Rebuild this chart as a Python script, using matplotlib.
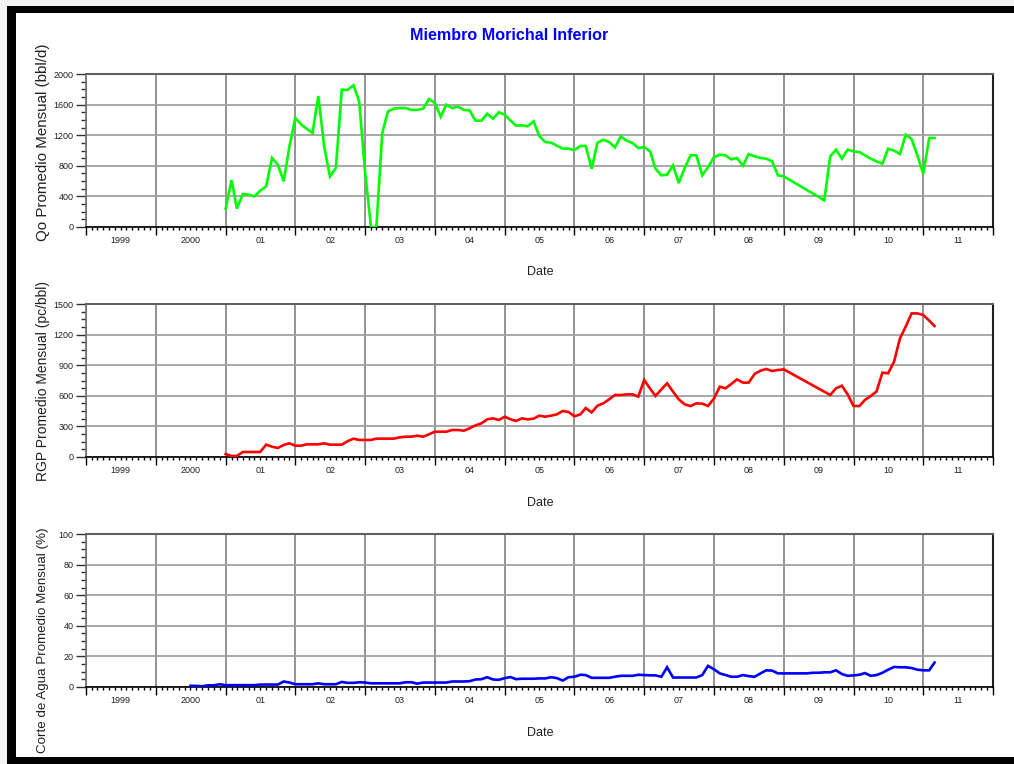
import numpy as np
import matplotlib
matplotlib.use("Agg")
import matplotlib.pyplot as plt
import matplotlib.dates as mdates
from matplotlib.patches import Rectangle
from matplotlib.ticker import MultipleLocator, NullFormatter

plt.rcParams['font.family'] = ['Liberation Sans', 'DejaVu Sans']

# ---- data: month offsets from Jan 2001 and monthly averages ----
qo_months = [0, 1, 2, 3, 4, 5, 6, 7, 8, 9, 10, 11, 12, 13, 14, 15, 16, 17, 18, 19,
             20, 21, 22, 23, 24, 25, 26, 27, 28, 29, 30, 31, 32, 33, 34, 35, 36, 37,
             38, 39, 40, 41, 42, 43, 44, 45, 46, 47, 48, 49, 50, 51, 52, 53, 54, 55,
             56, 57, 58, 59, 60, 61, 62, 63, 64, 65, 66, 67, 68, 69, 70, 71, 72, 73,
             74, 75, 76, 77, 78, 79, 80, 81, 82, 83, 84, 85, 86, 87, 88, 89, 90, 91,
             92, 93, 94, 95, 96, 103, 104, 105, 106, 107, 108, 109, 110, 111, 112,
             113, 114, 115, 116, 117, 118, 119, 120, 121, 122]
qo_values = [240, 614, 240, 431, 423, 400, 475, 531, 902, 815, 597, 1054, 1425, 1338,
             1285, 1229, 1712, 1050, 662, 771, 1795, 1791, 1852, 1643, 720, 0, 0, 1229,
             1512, 1547, 1555, 1555, 1530, 1530, 1547, 1673, 1620, 1442, 1599, 1555,
             1573, 1530, 1525, 1390, 1390, 1481, 1416, 1499, 1468, 1390, 1325, 1329,
             1316, 1381, 1189, 1111, 1102, 1063, 1024, 1024, 1006, 1059, 1059, 760,
             1100, 1141, 1111, 1041, 1185, 1128, 1098, 1033, 1046, 989, 762, 675, 684,
             806, 575, 771, 937, 937, 675, 780, 911, 945, 937, 884, 902, 802, 954, 924,
             902, 893, 858, 675, 662, 349, 924, 1011, 893, 1011, 989, 980, 937, 893,
             858, 828, 1024, 998, 954, 1207, 1150, 937, 693, 1163, 1163]

rgp_months = list(range(0, 97)) + list(range(104, 123))
rgp_values = [29, 10, 10, 49, 49, 49, 49, 121, 101, 88, 118, 134, 111, 111, 124, 124,
              124, 134, 121, 121, 121, 154, 180, 167, 167, 167, 180, 180, 180, 180, 193,
              199, 199, 209, 199, 222, 248, 248, 248, 265, 265, 258, 281, 310, 330, 369,
              379, 363, 395, 369, 353, 379, 369, 376, 405, 395, 405, 418, 451, 441, 399,
              418, 480, 437, 502, 526, 565, 608, 608, 614, 614, 592, 755, 670, 598, 663,
              722, 641, 565, 516, 500, 526, 523, 500, 572, 690, 673, 716, 761, 729, 729,
              814, 846, 863, 843, 853, 859,
              608, 673, 699, 614, 500, 500, 559, 598, 641, 827, 820, 935, 1163, 1278,
              1408, 1408, 1392, 1337, 1284]

wc_months = list(range(-6, 123))
wc_values = [0.8, 0.7, 0.5, 1.1, 1.1, 1.8,
             1.2, 1.2, 1.2, 1.2, 1.2, 1.2, 1.6, 1.6, 1.6, 1.6, 3.6, 2.9,
             1.8, 1.8, 1.8, 1.8, 2.4, 1.8, 1.8, 1.8, 3.3, 2.7, 2.7, 3.1,
             2.9, 2.4, 2.4, 2.4, 2.4, 2.4, 2.4, 3.1, 3.1, 2.2, 2.9, 2.9,
             2.9, 2.9, 2.9, 3.6, 3.6, 3.6, 3.8, 4.9, 5.1, 6.4, 4.9, 4.7,
             5.8, 6.5, 5.1, 5.4, 5.4, 5.4, 5.6, 5.6, 6.4, 5.8, 4.2, 6.4,
             6.7, 8.0, 7.8, 6.0, 6.0, 6.0, 6.0, 6.7, 7.3, 7.3, 7.3, 8.0,
             7.8, 7.6, 7.6, 6.7, 12.9, 6.2, 6.2, 6.2, 6.2, 6.2, 7.8, 13.8,
             11.6, 8.9, 7.8, 6.7, 6.7, 7.8, 7.1, 6.7, 8.9, 10.9, 10.7, 8.9,
             8.9, 8.9, 8.9, 8.9, 8.9, 9.3, 9.3, 9.6, 9.6, 10.9, 8.5, 7.3,
             7.6, 8.0, 9.1, 7.3, 7.8, 9.3, 11.3, 13.1, 12.9, 12.9, 12.4, 11.3,
             10.9, 10.9, 16.0]

year_labels = ["1999", "2000", "01", "02", "03", "04", "05", "06", "07", "08",
               "09", "10", "11"]
title_text = "Miembro Morichal Inferior"
ylabels = ["Qo Promedio Mensual (bbl/d)", "RGP Promedio Mensual (pc/bbl)",
           "Corte de Agua Promedio Mensual (%)"]


def month_dates(months):
    return (np.datetime64('2001-01', 'M') + np.array(months, dtype='timedelta64[M]')).astype('datetime64[D]')


W, H = 1014, 764
fig = plt.figure(figsize=(W / 100, H / 100), dpi=100)
fig.patch.set_facecolor('white')


def px_axes(left, top, right, bottom):
    return fig.add_axes([left / W, 1 - bottom / H, (right - left) / W, (bottom - top) / H])


panels = [
    dict(box=(86, 74, 993, 227), months=qo_months, values=qo_values, color='#00ff00',
         ylim=(0, 2000), major=400, minor=100, label=ylabels[0], lsize=10.9, lcy=142,
         date_y=272),
    dict(box=(86, 304, 993, 457), months=rgp_months, values=rgp_values, color='#ff0000',
         ylim=(0, 1500), major=300, minor=75, label=ylabels[1], lsize=10.0, lcy=381,
         date_y=503),
    dict(box=(86, 534, 993, 687), months=wc_months, values=wc_values, color='#0000ff',
         ylim=(0, 100), major=20, minor=5, label=ylabels[2], lsize=9.6, lcy=640,
         date_y=733),
]

x0 = np.datetime64('1999-01-01')
x1 = np.datetime64('2012-01-01')
mid_years = [np.datetime64(f'{y}-07-02') for y in range(1999, 2012)]

for p in panels:
    ax = px_axes(*p['box'])
    ax.plot(month_dates(p['months']), p['values'], color=p['color'], lw=1.9,
            solid_joinstyle='miter', zorder=3)
    ax.set_xlim(x0, x1)
    ax.set_ylim(*p['ylim'])

    ax.xaxis.set_major_locator(mdates.YearLocator())
    ax.xaxis.set_minor_locator(mdates.MonthLocator())
    ax.xaxis.set_major_formatter(NullFormatter())
    ax.yaxis.set_major_locator(MultipleLocator(p['major']))
    ax.yaxis.set_minor_locator(MultipleLocator(p['minor']))

    ax.tick_params(axis='x', which='major', direction='out', length=5.5, width=1.0,
                   color='black')
    ax.tick_params(axis='x', which='minor', direction='out', length=2.2, width=1.0,
                   color='black')
    ax.tick_params(axis='y', which='major', direction='out', length=7.5, width=1.0,
                   color='#303030', labelsize=6.5, pad=1.5, labelcolor='#202020')
    ax.tick_params(axis='y', which='minor', direction='out', length=3.5, width=1.0,
                   color='#303030')

    ax.grid(True, axis='x', which='major', color='#8a8a8a', lw=1.3)
    ax.grid(True, axis='y', which='major', color='#a0a0a0', lw=1.3)
    ax.set_axisbelow(True)

    ax.spines['top'].set_color('#606060')
    ax.spines['top'].set_linewidth(1.5)
    ax.spines['right'].set_color('#202020')
    ax.spines['right'].set_linewidth(1.5)
    ax.spines['left'].set_color('#707070')
    ax.spines['left'].set_linewidth(1.2)
    ax.spines['bottom'].set_color('black')
    ax.spines['bottom'].set_linewidth(1.2)

    for d, lbl in zip(mid_years, year_labels):
        ax.annotate(lbl, xy=(mdates.date2num(d), 0), xycoords=('data', 'axes fraction'),
                    xytext=(0, -9.5), textcoords='offset points', ha='center',
                    va='center', fontsize=6.5, color='#202020', annotation_clip=False)

    fig.text(43 / W, 1 - p['lcy'] / H, p['label'], rotation=90, ha='center',
             va='center', fontsize=p['lsize'], color='#202020')
    fig.text(540 / W, 1 - p['date_y'] / H, 'Date', ha='center', va='center',
             fontsize=9, color='#202020')

fig.text(509 / W, 1 - 36 / H, title_text, ha='center', va='center', fontsize=11.6,
         fontweight='bold', color='#0000ff')

# window frame around the chart
def frame_rect(x, y, w, h, color):
    fig.add_artist(Rectangle((x / W, 1 - (y + h) / H), w / W, h / H,
                             transform=fig.transFigure, color=color, lw=0, zorder=10))

frame_rect(0, 0, W, 6, '#f2f2f2')
frame_rect(0, 0, 7, H, '#f2f2f2')
frame_rect(7, 6, W - 7, 7, 'black')
frame_rect(7, 6, 9, H - 6, 'black')
frame_rect(7, 757, W - 7, 7, 'black')

fig.savefig('out.png', dpi=100, facecolor='white')
